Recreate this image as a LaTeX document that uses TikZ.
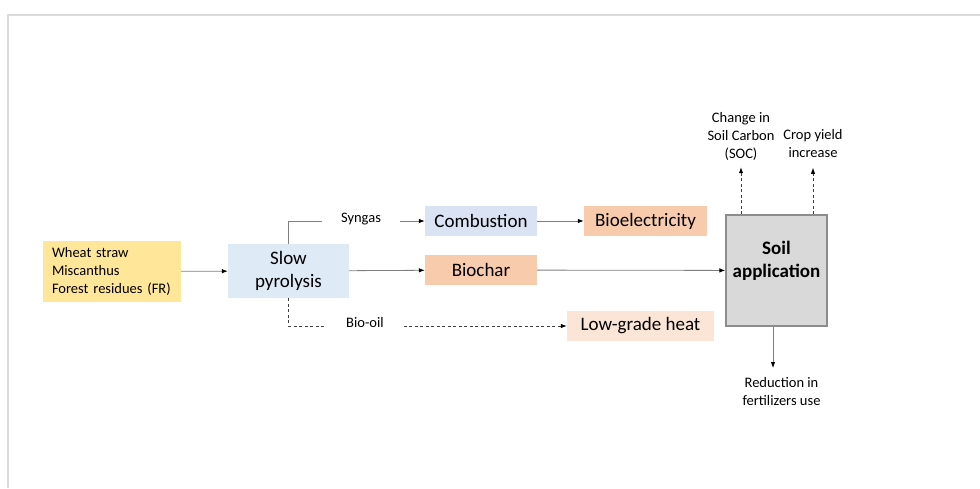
\documentclass[tikz,border=0pt]{standalone}
\usepackage{fontspec}
\setmainfont{Carlito}
\usetikzlibrary{arrows.meta}
\definecolor{cYellow}{HTML}{FFE699}
\definecolor{cBlue}{HTML}{DEEBF7}
\definecolor{cBlueB}{HTML}{DAE3F3}
\definecolor{cOrange}{HTML}{F8CBAD}
\definecolor{cPeach}{HTML}{FBE5D6}
\definecolor{cGrey}{HTML}{D9D9D9}
\definecolor{cEdge}{HTML}{8C8C8C}
\definecolor{cLine}{HTML}{7F7F7F}
\definecolor{cDash}{HTML}{404040}
\begin{document}
\begin{tikzpicture}[x=1pt,y=-1pt,
  big/.style={font=\fontsize{19}{23}\selectfont},
  small/.style={font=\fontsize{14.5}{18}\selectfont, align=center, inner sep=0pt},
  procbox/.style={big, inner sep=0pt, align=center, text=black},
  conn/.style={draw=cLine, line width=0.8pt, -{Latex[length=6pt,width=4.5pt,fill=black,color=black]}},
  dconn/.style={draw=cDash, line width=0.8pt, dashed, dash pattern=on 3pt off 2.5pt, -{Latex[length=6pt,width=4.5pt,fill=black,color=black]}},
  cover/.style={small, fill=white, minimum height=24pt}
]
\useasboundingbox (0,0) rectangle (980,488);
% outer frame
\draw[cGrey, line width=2pt] (7.5,488) -- (7.5,14.5) -- (980,14.5);

% feedstock and process boxes
\node[fill=cYellow, minimum height=61pt, text width=120pt, inner xsep=9pt, inner ysep=0pt,
      align=left, font=\fontsize{14.5}{18}\selectfont] (feed) at (112,271.5)
      {Wheat straw\\Miscanthus\\Forest residues (FR)};
\node[procbox, fill=cBlue, minimum width=121pt, minimum height=54pt] (pyro) at (288.5,271) {Slow\\pyrolysis};
\node[procbox, fill=cBlueB, minimum width=112pt, minimum height=30pt] (comb) at (481,221) {Combustion};
\node[procbox, fill=cOrange, minimum width=123pt, minimum height=30pt] (elec) at (645.5,221) {Bioelectricity};
\node[procbox, fill=cOrange, minimum width=112pt, minimum height=30pt] (char) at (481,270) {Biochar};
\node[procbox, fill=cPeach, minimum width=147pt, minimum height=30pt] (heat) at (640.5,326) {Low-grade heat};
\node[fill=cGrey, draw=cEdge, line width=1.3pt, minimum width=101pt, minimum height=111pt,
      inner sep=0pt] (soil) at (776.5,270.5) {};
\node[procbox, font=\fontsize{19}{23}\selectfont\bfseries] (soiltext) at (776.5,261) {Soil\\application};

% outcome labels
\node[small] (soc) at (741,136) {Change in\\Soil Carbon\\(SOC)};
\node[small] (crop) at (813,143.5) {Crop yield\\increase};
\node[small] (red) at (781.5,392) {Reduction in\\fertilizers use};

% main flow
\draw[conn] (feed) -- (pyro);
\draw[conn] (pyro.north) |- (comb.west);
\node[cover, minimum width=78pt] (syn) at (361,219) {Syngas};
\draw[conn] (comb) -- (elec);
\draw[conn] (pyro) -- (char);
\draw[conn] (char) -- (soil);
\draw[dconn] (pyro.south) |- (heat.west);
\node[cover, minimum width=76pt] (oil) at (365,323) {Bio-oil};

% effects of soil application
\draw[dconn] (soil.north -| soc) -- ([yshift=-7pt]soc.south);
\draw[dconn] (soil.north -| crop) -- ([yshift=-10pt]crop.south);
\draw[conn] (soil.south -| 773,0) -- (773,368);
\end{tikzpicture}
\end{document}
